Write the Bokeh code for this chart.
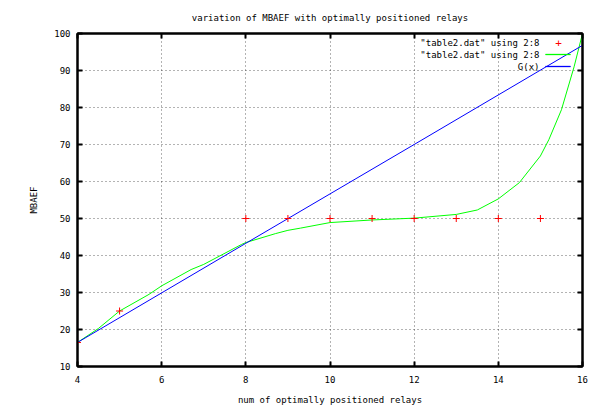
from bokeh.plotting import figure
from bokeh.models import (LinearAxis, Range1d, FixedTicker, Label, BoxAnnotation, ColumnDataSource)
from bokeh.embed import file_html
from bokeh.resources import INLINE

# ---- data ----
pts_x = [4, 5, 8, 9, 10, 11, 12, 13, 14, 15, 16]
pts_y = [16.5, 25, 50, 50, 50, 50, 50, 50, 50, 50, 100]

fit_x = [4, 4.5, 5, 5.7, 6, 6.7, 7, 7.9, 8, 8.7, 9, 9.3, 10, 11, 12, 13, 13.5, 14,
         14.5, 15, 15.2, 15.5, 15.8, 16]
fit_y = [16.5, 20.3, 25, 29.5, 31.8, 36.2, 37.6, 43.0, 43.5, 45.9, 46.8, 47.4, 48.9,
         49.6, 50.1, 51.1, 52.3, 55.3, 59.7, 66.9, 71.3, 79.4, 91, 100]

g_x = [4, 8, 12, 16]
g_y = [16.5, 43.3, 70.0, 96.8]

x_ticks = [4, 6, 8, 10, 12, 14, 16]
y_ticks = [10, 20, 30, 40, 50, 60, 70, 80, 90, 100]

title_text = "variation of MBAEF with optimally positioned relays"
x_label = "num of optimally positioned relays"
y_label = "MBAEF"
legend_labels = ['"table2.dat" using 2:8', '"table2.dat" using 2:8', 'G(x)']

FONT = "DejaVu Sans Mono"
FS = "9px"

W, H = 592, 407
p = figure(width=W, height=H, output_backend="svg", toolbar_location=None,
           x_range=Range1d(4, 16), y_range=Range1d(10, 100),
           min_border_left=77, min_border_right=10, min_border_top=33, min_border_bottom=38,
           x_axis_location=None, y_axis_location=None)
p.background_fill_color = "white"
p.border_fill_color = "white"
p.outline_line_color = "black"
p.outline_line_width = 2

def style_axis(ax, ticks, labels=True):
    ax.ticker = FixedTicker(ticks=ticks)
    ax.axis_line_color = "black"
    ax.axis_line_width = 2
    ax.major_tick_in = 5
    ax.major_tick_out = 0
    ax.major_tick_line_width = 2
    ax.minor_tick_line_color = None
    ax.major_label_text_font = FONT
    ax.major_label_text_font_size = FS
    ax.major_label_text_color = "black" if labels else None
    ax.axis_label_text_font = FONT
    ax.axis_label_text_font_size = FS
    ax.axis_label_text_font_style = "normal"
    ax.axis_label_text_color = "black"

xb = LinearAxis(axis_label=x_label)
style_axis(xb, x_ticks)
xb.major_label_standoff = 9
xb.axis_label_standoff = 9
p.add_layout(xb, "below")

yl = LinearAxis(axis_label=y_label)
style_axis(yl, y_ticks)
yl.major_label_standoff = 7
yl.axis_label_standoff = 12
p.add_layout(yl, "left")

xt = LinearAxis()
style_axis(xt, x_ticks, labels=False)
xt.major_label_text_font_size = "0px"
xt.major_label_standoff = 0
p.add_layout(xt, "above")

yr = LinearAxis()
style_axis(yr, y_ticks, labels=False)
yr.major_label_text_font_size = "0px"
p.add_layout(yr, "right")

p.xgrid.ticker = FixedTicker(ticks=x_ticks[1:-1])
p.ygrid.ticker = FixedTicker(ticks=y_ticks[1:-1])
for g in (p.xgrid, p.ygrid):
    g.grid_line_color = "black"
    g.grid_line_dash = "1 3"
    g.grid_line_width = 1
    g.grid_line_alpha = 0.6

p.title.text = title_text
p.title.text_font = FONT
p.title.text_font_size = FS
p.title.text_font_style = "normal"
p.title.text_color = "black"
p.title.align = "center"
p.title.standoff = 21

src_pts = ColumnDataSource(dict(x=pts_x, y=pts_y))
src_fit = ColumnDataSource(dict(x=fit_x, y=fit_y))
src_g = ColumnDataSource(dict(x=g_x, y=g_y))

p.line("x", "y", source=src_fit, line_color="#00ff00", line_width=1)
p.line("x", "y", source=src_g, line_color="#0000ff", line_width=1)
p.scatter("x", "y", source=src_pts, marker="cross", size=7, line_color="#ff0000", line_width=1)

# manual gnuplot-style legend (text right-aligned, sample to the right)
# screen units here are relative to the plot frame, y measured from the frame bottom
rows = [324, 312, 300]
for i, lab in enumerate(legend_labels):
    p.add_layout(Label(x=462, y=rows[i], x_units="screen", y_units="screen",
                       text=lab, text_font=FONT, text_font_size=FS, text_color="black",
                       text_align="right", text_baseline="middle"))
p.add_layout(Label(x=481, y=rows[0], x_units="screen", y_units="screen",
                   text="+", text_font=FONT, text_font_size="11px", text_color="#ff0000",
                   text_align="center", text_baseline="middle"))
for i, col in ((1, "#00ff00"), (2, "#0000ff")):
    p.add_layout(BoxAnnotation(left=468, right=493, top=rows[i] + 0.5, bottom=rows[i] - 0.5,
                               left_units="screen", right_units="screen",
                               top_units="screen", bottom_units="screen",
                               fill_color=col, fill_alpha=1, line_color=col, line_width=1))

open("out.html", "w").write(file_html(p, INLINE))
